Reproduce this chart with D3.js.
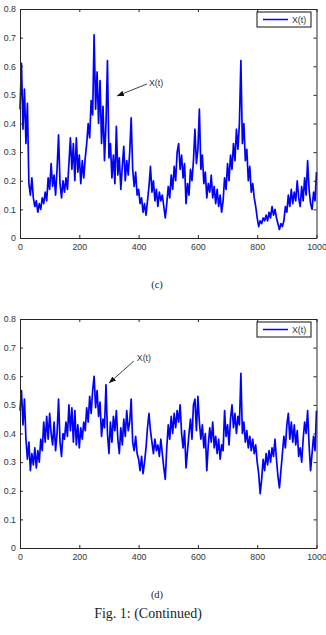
<!DOCTYPE html>
<html>
<head>
<meta charset="utf-8">
<script src="https://cdn.jsdelivr.net/npm/d3@7"></script>
<style>
html,body{margin:0;padding:0;background:#fff;}
svg{display:block;}
</style>
</head>
<body>
<script>
// ---- data ----
const tGrid = d3.range(0, 1001, 5); // time index 0..1000
const seriesC = [
0.45,0.61,0.38,0.52,0.33,0.47,0.19,0.15,0.21,0.14,
0.11,0.13,0.09,0.12,0.10,0.14,0.12,0.16,0.13,0.21,
0.17,0.26,0.18,0.22,0.15,0.24,0.36,0.19,0.14,0.20,
0.16,0.21,0.17,0.26,0.35,0.24,0.33,0.20,0.35,0.23,
0.29,0.19,0.27,0.21,0.28,0.33,0.40,0.35,0.48,0.43,
0.71,0.45,0.58,0.40,0.55,0.33,0.46,0.27,0.40,0.62,
0.28,0.33,0.21,0.29,0.19,0.39,0.22,0.28,0.17,0.25,
0.32,0.20,0.27,0.22,0.30,0.42,0.24,0.18,0.23,0.15,
0.17,0.12,0.14,0.09,0.12,0.08,0.13,0.18,0.25,0.16,
0.20,0.13,0.17,0.11,0.16,0.13,0.15,0.11,0.07,0.12,
0.18,0.14,0.22,0.17,0.25,0.20,0.30,0.33,0.24,0.29,
0.21,0.26,0.12,0.19,0.15,0.24,0.20,0.27,0.38,0.26,
0.31,0.45,0.24,0.29,0.19,0.23,0.14,0.19,0.16,0.22,
0.14,0.18,0.12,0.17,0.11,0.15,0.09,0.13,0.21,0.17,
0.26,0.20,0.29,0.24,0.33,0.27,0.38,0.31,0.40,0.62,
0.33,0.40,0.27,0.31,0.20,0.25,0.16,0.19,0.14,0.11,
0.07,0.04,0.06,0.05,0.07,0.06,0.08,0.06,0.09,0.07,
0.11,0.08,0.10,0.07,0.05,0.03,0.05,0.04,0.06,0.11,
0.09,0.15,0.11,0.17,0.12,0.16,0.13,0.20,0.14,0.11,
0.18,0.13,0.21,0.15,0.27,0.17,0.12,0.10,0.16,0.13,
0.23];
const seriesD = [
0.48,0.55,0.43,0.52,0.38,0.31,0.37,0.27,0.33,0.29,
0.35,0.28,0.34,0.30,0.38,0.34,0.44,0.37,0.46,0.38,
0.47,0.40,0.36,0.44,0.34,0.40,0.52,0.37,0.32,0.40,
0.38,0.44,0.39,0.50,0.41,0.49,0.37,0.48,0.36,0.43,
0.35,0.42,0.38,0.44,0.41,0.49,0.44,0.53,0.47,0.55,
0.60,0.49,0.55,0.46,0.51,0.39,0.45,0.42,0.57,0.40,
0.33,0.44,0.37,0.46,0.41,0.48,0.38,0.33,0.42,0.36,
0.45,0.39,0.48,0.41,0.44,0.52,0.37,0.34,0.39,0.33,
0.31,0.27,0.32,0.26,0.30,0.35,0.42,0.47,0.41,0.37,
0.33,0.38,0.34,0.36,0.32,0.38,0.33,0.28,0.24,0.35,
0.43,0.38,0.46,0.40,0.47,0.42,0.48,0.44,0.50,0.40,
0.35,0.41,0.28,0.34,0.40,0.45,0.38,0.50,0.52,0.41,
0.53,0.44,0.38,0.43,0.35,0.40,0.27,0.36,0.42,0.37,
0.44,0.35,0.39,0.33,0.38,0.31,0.36,0.34,0.48,0.39,
0.43,0.36,0.45,0.50,0.42,0.47,0.40,0.46,0.43,0.61,
0.40,0.44,0.37,0.41,0.35,0.39,0.34,0.38,0.33,0.36,
0.30,0.26,0.19,0.24,0.31,0.27,0.33,0.29,0.34,0.30,
0.35,0.32,0.38,0.31,0.25,0.21,0.27,0.33,0.39,0.35,
0.43,0.47,0.38,0.44,0.37,0.43,0.36,0.41,0.32,0.35,
0.30,0.38,0.44,0.40,0.48,0.36,0.27,0.33,0.39,0.34,
0.48];
const xTicks = [0, 200, 400, 600, 800, 1000];
const yTicks = [0, 0.1, 0.2, 0.3, 0.4, 0.5, 0.6, 0.7, 0.8];
const legendLabel = "X(t)";
const panelLabels = ["(c)", "(d)"];
const figCaption = "Fig. 1: (Continued)";
// annotation anchors in data coordinates: [text t, text v, arrow start t, v, arrow end t, v]
const annotC = [435, 0.541, 428, 0.538, 327, 0.496];
const annotD = [394, 0.664, 384, 0.653, 300, 0.576];

// ---- drawing ----
const W = 326, H = 635;
const svg = d3.select("body").append("svg").attr("width", W).attr("height", H);
const axisColor = "#262626", textColor = "#333";
const sans = "'Liberation Sans', Arial, Helvetica, sans-serif";
const serif = "'Liberation Serif', 'Times New Roman', serif";

svg.append("defs").append("marker")
  .attr("id", "arrow").attr("viewBox", "0 0 10 10")
  .attr("refX", 10).attr("refY", 5)
  .attr("markerWidth", 7).attr("markerHeight", 7)
  .attr("markerUnits", "userSpaceOnUse")
  .attr("orient", "auto")
  .append("path").attr("d", "M0,1 L10,5 L0,9 Z").attr("fill", "#111");

function panel(top, values, annot, label) {
  const left = 20, right = 316.5, bottom = top + 229;
  const x = d3.scaleLinear().domain([0, 1000]).range([left, right]);
  const y = d3.scaleLinear().domain([0, 0.8]).range([bottom, top]);
  const g = svg.append("g");

  // data line
  const line = d3.line().x((d, i) => x(tGrid[i])).y(d => y(d));
  g.append("path").datum(values)
    .attr("d", line).attr("fill", "none")
    .attr("stroke", "#0000ff").attr("stroke-width", 1.7)
    .attr("stroke-linejoin", "round");

  // axes (MATLAB style: box, ticks inward)
  const fmt = d => d === 0 ? "0" : (d >= 1 ? String(d) : d3.format(".1f")(d));
  const axB = g.append("g").attr("transform", `translate(0,${bottom})`)
    .call(d3.axisBottom(x).tickValues(xTicks).tickSizeInner(-3).tickSizeOuter(0).tickPadding(6).tickFormat(d3.format("d")));
  const axT = g.append("g").attr("transform", `translate(0,${top})`)
    .call(d3.axisTop(x).tickValues(xTicks).tickSizeInner(-3).tickSizeOuter(0).tickFormat(""));
  const axL = g.append("g").attr("transform", `translate(${left},0)`)
    .call(d3.axisLeft(y).tickValues(yTicks).tickSizeInner(-3).tickSizeOuter(0).tickPadding(4).tickFormat(fmt));
  const axR = g.append("g").attr("transform", `translate(${right},0)`)
    .call(d3.axisRight(y).tickValues(yTicks).tickSizeInner(-3).tickSizeOuter(0).tickFormat(""));
  [axB, axT, axL, axR].forEach(a => {
    a.selectAll("path.domain").attr("stroke", axisColor).attr("stroke-width", 1);
    a.selectAll(".tick line").attr("stroke", axisColor);
    a.selectAll("text").attr("fill", textColor).style("font-family", sans).style("font-size", "8.8px");
  });

  // legend
  const lg = g.append("g");
  lg.append("rect").attr("x", 257).attr("y", top + 3).attr("width", 54).attr("height", 15)
    .attr("fill", "#fff").attr("stroke", "#111").attr("stroke-width", 1);
  lg.append("line").attr("x1", 263).attr("x2", 288).attr("y1", top + 10.5).attr("y2", top + 10.5)
    .attr("stroke", "#0000ff").attr("stroke-width", 1.5);
  lg.append("text").attr("x", 292).attr("y", top + 13.8).text(legendLabel)
    .attr("fill", textColor).style("font-family", sans).style("font-size", "8.8px");

  // annotation
  g.append("text").attr("x", x(annot[0])).attr("y", y(annot[1]) + 3.2)
    .text(legendLabel).attr("fill", textColor).style("font-family", sans).style("font-size", "8.8px");
  g.append("line")
    .attr("x1", x(annot[2])).attr("y1", y(annot[3]))
    .attr("x2", x(annot[4])).attr("y2", y(annot[5]))
    .attr("stroke", "#111").attr("stroke-width", 0.8)
    .attr("marker-end", "url(#arrow)");

  // panel label
  svg.append("text").attr("x", 157).attr("y", bottom + 50).attr("text-anchor", "middle")
    .text(label).attr("fill", "#222").style("font-family", serif).style("font-size", "10.5px");
}

panel(9, seriesC, annotC, panelLabels[0]);
panel(319, seriesD, annotD, panelLabels[1]);

svg.append("text").attr("x", 148).attr("y", 618).attr("text-anchor", "middle")
  .text(figCaption).attr("fill", "#222").style("font-family", serif).style("font-size", "14px");
</script>
</body>
</html>
